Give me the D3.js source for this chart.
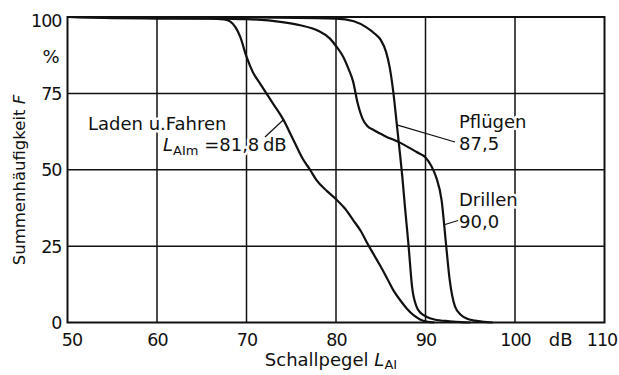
<!DOCTYPE html>
<html><head><meta charset="utf-8">
<script src="https://cdn.jsdelivr.net/npm/d3@7"></script>
<style>
body{margin:0;background:#fff}
svg{display:block;font-family:"DejaVu Sans",sans-serif;fill:#111}
</style></head><body>
<svg id="c" width="619" height="375"></svg>
<script>
// ---- data ----
const xTicks = [50, 60, 70, 80, 90, 100, 110];
const yTicks = [0, 25, 50, 75, 100];
const xUnit = "dB";
const yUnit = "%";
const seriesNames = ["Laden u.Fahren", "Pflügen", "Drillen"];
const seriesMedians = ["81,8", "87,5", "90,0"];

const ladenX = [50, 55, 60, 66, 67.5, 68.2, 68.8, 69.3, 70, 70.7, 71.5, 73, 74.1, 75.2, 76.3, 77.1, 77.8, 79, 80.1, 81, 81.9, 82.8, 83.6, 84.9, 85.7, 86.4, 87.2, 87.9, 88.7, 89.4, 90.1, 91];
const ladenF = [100, 99.6, 99.5, 99.5, 99.2, 98.5, 96.5, 93.5, 87, 82, 78.3, 71.5, 66.5, 60, 53.5, 50, 46.7, 43, 40.1, 37.3, 33.6, 29.8, 25.4, 18.8, 14.5, 10.6, 7.2, 4.6, 2.3, 1, 0.3, 0];

const pfluegenX = [50, 70, 80, 82, 83.4, 84.3, 85, 85.6, 86, 86.4, 86.8, 87.1, 87.4, 87.7, 88.1, 88.5, 89, 89.5, 90.1, 91, 92.7, 94, 95];
const pfluegenF = [100, 99.9, 99.5, 98.6, 96.6, 94.6, 92.5, 88.5, 83.5, 75.5, 64.7, 56.5, 48, 38, 25.4, 11.7, 5.2, 3, 1.9, 1, 0.4, 0.1, 0];

const drillenX = [50, 60, 70, 74, 76, 78, 79.3, 80, 80.8, 81.4, 81.9, 82.4, 83, 83.5, 84.2, 85.5, 87.2, 89, 90, 90.6, 91.2, 91.8, 92.3, 92.7, 93.3, 94, 94.6, 95.5, 96.5, 97.5];
const drillenF = [100, 99.8, 99.3, 98.3, 97.3, 95.5, 93, 90.5, 87, 83, 79, 72, 66.5, 64.3, 63, 61, 58.8, 55.8, 54, 51.5, 47.5, 40, 25.4, 14, 5.2, 2.4, 1.3, 0.6, 0.2, 0];

// ---- layout ----
const svg = d3.select("#c");
const x = d3.scaleLinear().domain([50, 110]).range([67.5, 604.5]);
const y = d3.scaleLinear().domain([0, 100]).range([322.5, 17]);

// grid
const grid = svg.append("g").attr("stroke", "#111").attr("stroke-width", 1.5);
grid.selectAll("line.v").data(xTicks.slice(1, -1)).join("line")
  .attr("x1", d => x(d)).attr("x2", d => x(d)).attr("y1", y(0)).attr("y2", y(100));
grid.selectAll("line.h").data(yTicks.slice(1, -1)).join("line")
  .attr("x1", x(50)).attr("x2", x(110)).attr("y1", d => y(d)).attr("y2", d => y(d));

// curves
const line = d3.line().x(d => x(d[0])).y(d => y(d[1])).curve(d3.curveMonotoneX);
const series = [
  d3.zip(ladenX, ladenF),
  d3.zip(pfluegenX, pfluegenF),
  d3.zip(drillenX, drillenF)
];
svg.append("g").selectAll("path").data(series).join("path")
  .attr("d", line).attr("fill", "none").attr("stroke", "#111").attr("stroke-width", 2.2)
  .attr("stroke-linejoin", "round");

// frame
svg.append("rect").attr("x", x(50)).attr("y", y(100))
  .attr("width", x(110) - x(50)).attr("height", y(0) - y(100))
  .attr("fill", "none").attr("stroke", "#111").attr("stroke-width", 2);

// axes (labels only)
const fs = 18;
const xAxis = d3.axisBottom(x).tickValues(xTicks).tickSize(0).tickPadding(0);
const gx = svg.append("g").attr("transform", `translate(0,${y(0)})`).call(xAxis);
gx.select(".domain").remove();
gx.selectAll("text").attr("font-size", 17.5).attr("font-family", "DejaVu Sans").attr("fill", "#111")
  .attr("y", 23).attr("dy", 0).attr("letter-spacing", -1)
  .attr("dx", d => d === 50 ? 4 : (d === 110 ? -3 : 0));

const yAxis = d3.axisLeft(y).tickValues(yTicks).tickSize(0).tickPadding(0);
const gy = svg.append("g").attr("transform", `translate(${x(50) - 6},0)`).call(yAxis);
gy.select(".domain").remove();
gy.selectAll("text").attr("font-size", 17.5).attr("font-family", "DejaVu Sans").attr("fill", "#111")
  .attr("letter-spacing", -1).attr("dy", d => d === 100 ? "0.55em" : "0.35em");

// units
svg.append("text").attr("x", x(105.1)).attr("y", y(0) + 23).attr("text-anchor", "middle")
  .attr("font-size", fs).text(xUnit);
svg.append("text").attr("x", 51).attr("y", 63).attr("text-anchor", "middle")
  .attr("font-size", fs).text(yUnit);

// axis titles
const xt = svg.append("text").attr("x", 331).attr("y", 366).attr("text-anchor", "middle").attr("font-size", fs);
xt.append("tspan").text("Schallpegel ");
xt.append("tspan").attr("font-style", "italic").text("L");
xt.append("tspan").attr("font-size", 13).attr("dy", 3).text("AI");

const yt = svg.append("text").attr("transform", `translate(25,180) rotate(-90)`)
  .attr("text-anchor", "middle").attr("font-size", 16.5);
yt.append("tspan").text("Summenhäufigkeit ");
yt.append("tspan").attr("font-style", "italic").text("F");

// annotations
const ann = svg.append("g").attr("font-size", fs);
function halo(t) {
  return t.attr("stroke", "#fff").attr("stroke-width", 5).attr("paint-order", "stroke").attr("stroke-linejoin", "round");
}
const leaders = [
  [[265, 137], [x(74.1), y(66.3)]],
  [[455, 142], [x(86.8), y(64.7)]],
  [[458, 220.5], [x(92.1), y(32)]]
];
halo(ann.append("text").attr("x", 88).attr("y", 130).text(seriesNames[0]));
const l2 = halo(ann.append("text").attr("x", 163).attr("y", 151));
l2.append("tspan").attr("font-style", "italic").text("L");
l2.append("tspan").attr("font-size", 13).attr("dy", 4).text("AIm");
l2.append("tspan").attr("dy", -4).text(" =" + seriesMedians[0] + "\u2009dB");
halo(ann.append("text").attr("x", 459).attr("y", 128).text(seriesNames[1]));
halo(ann.append("text").attr("x", 459).attr("y", 150).text(seriesMedians[1]));
halo(ann.append("text").attr("x", 459).attr("y", 206).text(seriesNames[2]));
halo(ann.append("text").attr("x", 459).attr("y", 228).text(seriesMedians[2]));
svg.append("g").selectAll("line").data(leaders).join("line")
  .attr("x1", d => d[0][0]).attr("y1", d => d[0][1]).attr("x2", d => d[1][0]).attr("y2", d => d[1][1])
  .attr("stroke", "#111").attr("stroke-width", 1.2);
</script>
</body></html>
